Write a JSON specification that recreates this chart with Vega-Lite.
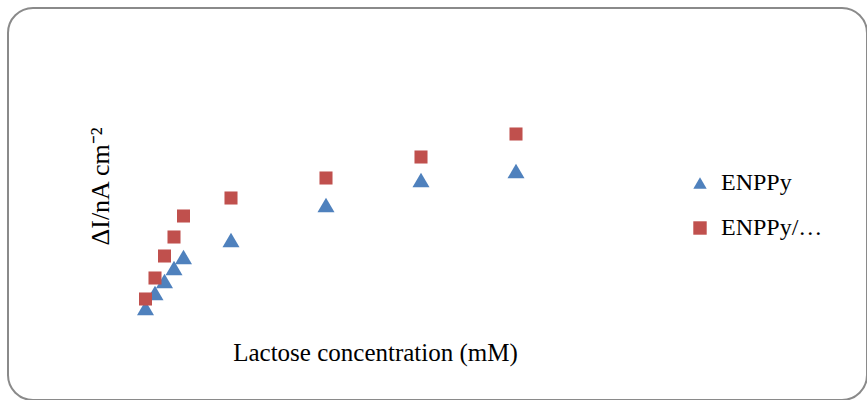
{
  "$schema": "https://vega.github.io/schema/vega-lite/v6.json",
  "width": 859,
  "height": 392,
  "autosize": {"type": "none"},
  "padding": {"left": 8, "top": 8, "right": 0, "bottom": 0},
  "background": "white",
  "view": {"stroke": "#8a8a8a", "strokeWidth": 2, "cornerRadius": 25, "fill": "white"},
  "config": {"font": "Liberation Serif"},
  "data": {
    "values": [
      {"conc": 0.5, "current": 1.2, "series": "ENPPy"},
      {"conc": 1, "current": 2.7, "series": "ENPPy"},
      {"conc": 1.5, "current": 3.9, "series": "ENPPy"},
      {"conc": 2, "current": 5.2, "series": "ENPPy"},
      {"conc": 2.5, "current": 6.3, "series": "ENPPy"},
      {"conc": 5, "current": 8.0, "series": "ENPPy"},
      {"conc": 10, "current": 11.5, "series": "ENPPy"},
      {"conc": 15, "current": 14.0, "series": "ENPPy"},
      {"conc": 20, "current": 14.9, "series": "ENPPy"},
      {"conc": 0.5, "current": 2.1, "series": "ENPPy/…"},
      {"conc": 1, "current": 4.2, "series": "ENPPy/…"},
      {"conc": 1.5, "current": 6.4, "series": "ENPPy/…"},
      {"conc": 2, "current": 8.3, "series": "ENPPy/…"},
      {"conc": 2.5, "current": 10.4, "series": "ENPPy/…"},
      {"conc": 5, "current": 12.2, "series": "ENPPy/…"},
      {"conc": 10, "current": 14.2, "series": "ENPPy/…"},
      {"conc": 15, "current": 16.3, "series": "ENPPy/…"},
      {"conc": 20, "current": 18.6, "series": "ENPPy/…"}
    ]
  },
  "encoding": {
    "x": {
      "field": "conc",
      "type": "quantitative",
      "scale": {"domain": [-6.737, 38.474], "nice": false, "zero": false},
      "axis": {
        "title": "Lactose concentration (mM)",
        "labels": false, "ticks": false, "domain": false, "grid": false,
        "titleFont": "Liberation Serif", "titleFontSize": 25, "titleFontWeight": "normal", "titleColor": "black",
        "titleX": 367, "titleY": -48, "titleBaseline": "middle", "titleAlign": "center"
      }
    },
    "y": {
      "field": "current",
      "type": "quantitative",
      "scale": {"domain": [-8, 31.2], "nice": false, "zero": false},
      "axis": {
        "title": "ΔI/nA cm⁻²",
        "labels": false, "ticks": false, "domain": false, "grid": false,
        "titleFont": "Liberation Serif", "titleFontSize": 26, "titleFontWeight": "normal", "titleColor": "black",
        "titleX": 92, "titleY": 178, "titleAngle": -90, "titleBaseline": "middle", "titleAlign": "center"
      }
    },
    "shape": {
      "field": "series",
      "type": "nominal",
      "scale": {"domain": ["ENPPy", "ENPPy/…"], "range": ["triangle-up", "square"]},
      "legend": {
        "orient": "none", "legendX": 680, "legendY": 163, "title": null,
        "labelFont": "Liberation Serif", "labelFontSize": 24, "labelColor": "black",
        "symbolSize": 180, "rowPadding": 21, "labelOffset": 9, "padding": 0
      }
    },
    "color": {
      "field": "series",
      "type": "nominal",
      "scale": {"domain": ["ENPPy", "ENPPy/…"], "range": ["#4F81BD", "#C0504D"]}
    }
  },
  "layer": [
    {
      "transform": [{"filter": "datum.series === 'ENPPy'"}],
      "mark": {"type": "point", "filled": true, "opacity": 1, "size": 290}
    },
    {
      "transform": [{"filter": "datum.series !== 'ENPPy'"}],
      "mark": {"type": "point", "filled": true, "opacity": 1, "size": 170}
    }
  ]
}
